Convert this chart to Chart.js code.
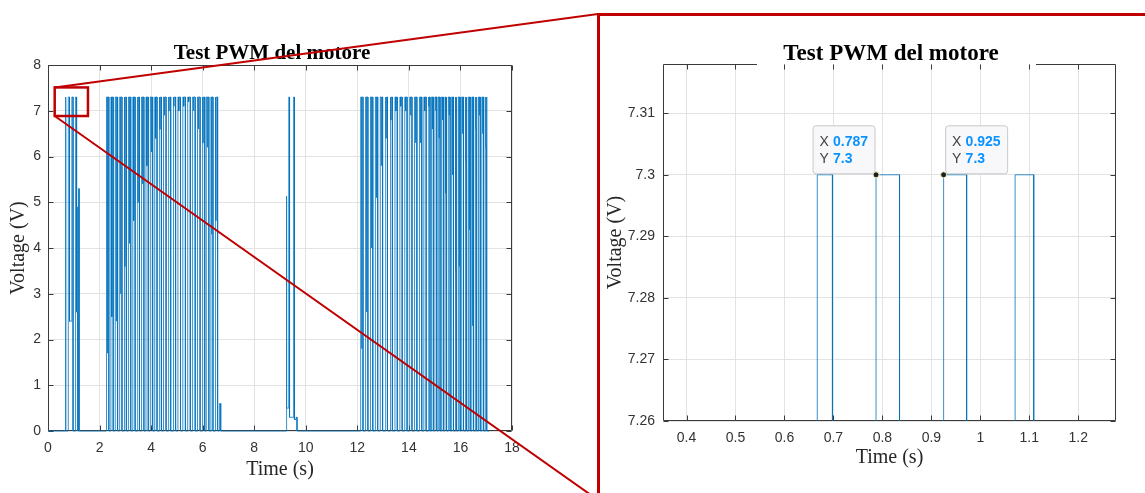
<!DOCTYPE html>
<html>
<head>
<meta charset="utf-8">
<title>Test PWM del motore</title>
<script src="https://cdn.jsdelivr.net/npm/chart.js@4.4.1/dist/chart.umd.min.js"></script>
<style>
    body { margin: 0; background: #fff; width: 1145px; height: 493px; overflow: hidden; position: relative; }
    #leftWrap { position: absolute; left: 0; top: 0; z-index: 1; }
    #zoomPanel { position: absolute; left: 597px; top: 13px; width: 560px; height: 486px; border-left: 3px solid #c00000; border-top: 3px solid #c00000; background: #fff; z-index: 2; }
    #rightWrap { position: absolute; left: 600px; top: 0; z-index: 3; }
</style>
</head>
<body>
<div id="leftWrap"><canvas id="pwmChart" width="598" height="493"></canvas></div>
<div id="zoomPanel"></div>
<div id="rightWrap"><canvas id="zoomChart" width="545" height="493"></canvas></div>

<script>
// PWM signal, times in s, voltage in V
const PWM_HIGH = 7.3;
const SIGNAL_END = 17.12;

// burst 1 (0.6 - 1.2 s)
const g1On   = [0.667, 0.787, 0.925, 1.071, 1.150, 1.195];
const g1Off  = [0.698, 0.835, 0.972, 1.109, 1.160, 1.205];
const g1High = [7.3, 7.3, 7.3, 7.3, 4.9, 5.3];
const g1Low  = [0, 2.4, 0, 2.6, 0, 0];

// burst 2 (2.3 - 6.6 s)
const g2On  = [2.27, 2.32, 2.44, 2.49, 2.61, 2.66, 2.78, 2.83, 2.95, 3.00, 3.12, 3.17, 3.29, 3.34,
               3.46, 3.51, 3.63, 3.68, 3.80, 3.85, 3.97, 4.02, 4.14, 4.19, 4.31, 4.36, 4.48, 4.53,
               4.66, 4.71, 4.85, 4.90, 5.04, 5.09, 5.23, 5.28, 5.42, 5.47, 5.61, 5.66, 5.80, 5.85,
               5.98, 6.03, 6.14, 6.19, 6.32, 6.36, 6.48, 6.53];
const g2Off = [2.30, 2.36, 2.47, 2.53, 2.64, 2.70, 2.81, 2.87, 2.98, 3.04, 3.15, 3.21, 3.32, 3.38,
               3.49, 3.55, 3.66, 3.72, 3.83, 3.89, 4.00, 4.06, 4.17, 4.23, 4.34, 4.40, 4.51, 4.58,
               4.69, 4.76, 4.88, 4.95, 5.07, 5.14, 5.26, 5.33, 5.45, 5.52, 5.64, 5.71, 5.83, 5.90,
               6.01, 6.08, 6.17, 6.24, 6.34, 6.40, 6.51, 6.58];
const g2Low = [1.7, 0, 2.5, 0, 2.4, 0, 3.0, 0, 3.6, 0, 4.1, 0, 4.6, 0,
               5.0, 0, 5.4, 0, 5.8, 0, 6.1, 0, 6.4, 0, 6.6, 0, 6.9, 0,
               7.0, 0, 7.1, 0, 7.0, 0, 7.1, 0, 7.2, 0, 7.0, 0, 6.6, 0,
               6.3, 0, 6.2, 0, 4.3, 0, 4.6, 0];
// small tail after burst 2
const g2TailOn = [6.65], g2TailOff = [6.70], g2TailHigh = [0.6], g2TailLow = [0];

// burst 3 (9.2 - 9.7 s)
const g3On   = [9.25, 9.34, 9.53, 9.62];
const g3Off  = [9.26, 9.37, 9.56, 9.66];
const g3High = [5.13, 7.3, 7.3, 0.3];
const g3Low  = [0.5, 0.3, 0.25, 0];

// burst 4 (12.1 - 17.1 s)
const g4On  = [12.13, 12.18, 12.32, 12.37, 12.51, 12.56, 12.70, 12.75, 12.89, 12.94, 13.08, 13.13,
               13.27, 13.32, 13.46, 13.51, 13.65, 13.70, 13.84, 13.89, 14.03, 14.08, 14.22, 14.27,
               14.41, 14.46, 14.58, 14.63, 14.75, 14.79, 14.88, 14.92, 15.01, 15.05, 15.14, 15.18,
               15.27, 15.31, 15.40, 15.44, 15.53, 15.57, 15.66, 15.70, 15.79, 15.83, 15.92, 15.96,
               16.05, 16.09, 16.18, 16.22, 16.31, 16.35, 16.44, 16.48, 16.57, 16.61, 16.70, 16.74,
               16.83, 16.87, 16.96, 17.00];
const g4Off = [12.16, 12.22, 12.35, 12.41, 12.54, 12.60, 12.73, 12.79, 12.92, 12.98, 13.11, 13.17,
               13.30, 13.36, 13.49, 13.55, 13.68, 13.74, 13.87, 13.93, 14.06, 14.12, 14.25, 14.31,
               14.44, 14.50, 14.61, 14.67, 14.78, 14.82, 14.91, 14.95, 15.04, 15.08, 15.17, 15.21,
               15.30, 15.34, 15.43, 15.47, 15.56, 15.60, 15.69, 15.73, 15.82, 15.86, 15.95, 15.99,
               16.08, 16.12, 16.21, 16.25, 16.34, 16.38, 16.47, 16.51, 16.60, 16.64, 16.73, 16.77,
               16.86, 16.90, 16.99, 17.03];
const g4Low = [1.8, 0, 2.6, 0, 4.0, 0, 5.1, 0, 5.8, 0, 6.4, 0,
               6.8, 0, 7.0, 0, 7.1, 0, 7.0, 0, 6.9, 0, 6.3, 0,
               6.3, 0, 7.0, 0, 7.1, 0, 6.6, 0, 7.0, 0, 6.4, 0,
               6.8, 0, 5.2, 0, 6.9, 0, 5.6, 0, 3.5, 0, 3.6, 0,
               6.5, 0, 5.9, 0, 4.4, 0, 2.3, 0, 6.6, 0, 6.9, 0,
               6.5, 0, 6.2, 0];

// axes
const timeTicks = [0, 2, 4, 6, 8, 10, 12, 14, 16, 18];
const voltTicks = [0, 1, 2, 3, 4, 5, 6, 7, 8];
const zoomTimeTicks = [0.4, 0.5, 0.6, 0.7, 0.8, 0.9, 1, 1.1, 1.2];
const zoomVoltTicks = [7.26, 7.27, 7.28, 7.29, 7.3, 7.31];
const zoomTimeRange = [0.352, 1.277];
const zoomVoltRange = [7.26, 7.318];

// red zoom frame on the left plot
const zoomBoxX = [0.26, 1.55];
const zoomBoxY = [6.885, 7.51];

// data tips on the zoomed plot
const tipX = [0.787, 0.925];
const tipY = [7.3, 7.3];
const tipSide = ['left', 'right'];

const LINE_COLOR = 'rgba(0, 114, 189, 0.78)';
const GRID_COLOR = '#e3e3e3';
const AXIS_COLOR = '#3a3a3a';
const RED = '#c00000';
const PANEL_LEFT = 598, PANEL_TOP = 14, PANEL_BOTTOM = 500;

Chart.defaults.font.family = '"Liberation Sans", Arial, sans-serif';

const bursts = [
    {on: g1On, off: g1Off, high: g1High, low: g1Low},
    {on: g2On, off: g2Off, low: g2Low},
    {on: g2TailOn, off: g2TailOff, high: g2TailHigh, low: g2TailLow},
    {on: g3On, off: g3Off, high: g3High, low: g3Low},
    {on: g4On, off: g4Off, low: g4Low}
];

function buildSignal(groups) {
    const points = [{x: 0, y: 0}];
    let level = 0;
    groups.forEach(g => {
        g.on.forEach((t, i) => {
            const high = g.high ? g.high[i] : PWM_HIGH;
            points.push({x: t, y: level}, {x: t, y: high}, {x: g.off[i], y: high}, {x: g.off[i], y: g.low[i]});
            level = g.low[i];
        });
    });
    points.push({x: SIGNAL_END, y: level});
    return points;
}

// matlab style box, inner ticks and texts
const matlabAxes = {
    id: 'matlabAxes',
    beforeDatasetsDraw(chart, args, opts) {
        const {ctx, chartArea: a, scales: {x, y}} = chart;
        const L = Math.round(a.left) + 0.5, R = Math.round(a.right) - 0.5;
        const T = Math.round(a.top) + 0.5, B = Math.round(a.bottom) - 0.5;
        ctx.save();
        ctx.strokeStyle = AXIS_COLOR;
        ctx.lineWidth = 1;
        ctx.beginPath();
        ctx.moveTo(L, T); ctx.lineTo(L, B); ctx.lineTo(R, B); ctx.lineTo(R, T);
        if (opts.topGap) {
            ctx.lineTo(opts.topGap[1], T);
            ctx.moveTo(opts.topGap[0], T); ctx.lineTo(L, T);
        } else {
            ctx.lineTo(L, T);
        }
        x.ticks.forEach(t => {
            const p = Math.round(x.getPixelForValue(t.value)) + 0.5;
            ctx.moveTo(p, B); ctx.lineTo(p, B - 5);
            ctx.moveTo(p, T); ctx.lineTo(p, T + 5);
        });
        y.ticks.forEach(t => {
            const p = Math.round(y.getPixelForValue(t.value)) + 0.5;
            ctx.moveTo(L, p); ctx.lineTo(L + 5, p);
            ctx.moveTo(R, p); ctx.lineTo(R - 5, p);
        });
        ctx.stroke();
        ctx.restore();
    },
    afterDraw(chart, args, opts) {
        const {ctx, chartArea: a} = chart;
        ctx.save();
        ctx.textAlign = 'center';
        ctx.fillStyle = '#000';
        ctx.font = 'bold ' + opts.titleSize + 'px "Liberation Serif"';
        ctx.fillText(opts.title, opts.titleX, opts.titleY);
        ctx.fillStyle = '#262626';
        ctx.font = '20px "Liberation Serif"';
        ctx.fillText(opts.xLabel, (a.left + a.right) / 2, opts.xLabelY);
        ctx.translate(opts.yLabelX, (a.top + a.bottom) / 2);
        ctx.rotate(-Math.PI / 2);
        ctx.textBaseline = 'middle';
        ctx.fillText(opts.yLabel, 0, 0);
        ctx.restore();
    }
};

const zoomFrame = {
    id: 'zoomFrame',
    afterDraw(chart) {
        const {ctx, scales: {x, y}} = chart;
        const x0 = x.getPixelForValue(zoomBoxX[0]), x1 = x.getPixelForValue(zoomBoxX[1]);
        const y0 = y.getPixelForValue(zoomBoxY[1]), y1 = y.getPixelForValue(zoomBoxY[0]);
        ctx.save();
        ctx.strokeStyle = RED;
        ctx.lineWidth = 2.5;
        ctx.strokeRect(x0, y0, x1 - x0, y1 - y0);
        ctx.lineWidth = 2;
        ctx.beginPath();
        ctx.moveTo(x0, y0); ctx.lineTo(PANEL_LEFT, PANEL_TOP);
        ctx.moveTo(x0, y1); ctx.lineTo(PANEL_LEFT, PANEL_BOTTOM);
        ctx.stroke();
        ctx.restore();
    }
};

const dataTips = {
    id: 'dataTips',
    afterDraw(chart) {
        const {ctx, scales: {x, y}} = chart;
        tipX.forEach((tx, i) => {
            const px = x.getPixelForValue(tx), py = y.getPixelForValue(tipY[i]);
            const w = 62, h = 48;
            const left = tipSide[i] === 'left' ? px - w - 1.5 : px + 1.5;
            const top = py - h - 1.5;
            ctx.save();
            ctx.fillStyle = '#f8f8fb';
            ctx.strokeStyle = '#c9c9cc';
            ctx.lineWidth = 1;
            ctx.beginPath();
            ctx.roundRect(left + 0.5, top + 0.5, w, h, 3);
            ctx.fill();
            ctx.stroke();
            ctx.font = '14px "Liberation Sans"';
            ctx.textBaseline = 'middle';
            ctx.fillStyle = '#404040';
            ctx.fillText('X', left + 7, top + 16.5);
            ctx.fillText('Y', left + 7, top + 34);
            ctx.font = 'bold 14px "Liberation Sans"';
            ctx.fillStyle = '#0a93ff';
            ctx.fillText(String(tx), left + 20.5, top + 16.5);
            ctx.fillText(String(tipY[i]), left + 20.5, top + 34);
            ctx.beginPath();
            ctx.arc(px, py, 3, 0, Math.PI * 2);
            ctx.fillStyle = '#1f1f1f';
            ctx.fill();
            ctx.strokeStyle = '#f2f2c0';
            ctx.stroke();
            ctx.restore();
        });
    }
};

function tickScale(min, max, ticks, fit, padding) {
    return {
        type: 'linear',
        min: min,
        max: max,
        afterBuildTicks: s => { s.ticks = ticks.map(v => ({value: v})); },
        afterFit: fit,
        grid: {color: GRID_COLOR, drawTicks: false},
        border: {display: false},
        ticks: {
            color: '#333',
            font: {size: 14},
            padding: padding,
            autoSkip: false,
            maxRotation: 0,
            callback: v => String(v)
        }
    };
}

// left: whole test
new Chart(document.getElementById('pwmChart'), {
    type: 'line',
    data: {
        datasets: [{
            data: buildSignal(bursts),
            borderColor: LINE_COLOR,
            borderWidth: 1,
            pointRadius: 0,
            tension: 0,
            clip: false
        }]
    },
    options: {
        responsive: false,
        animation: false,
        events: [],
        layout: {padding: {left: 0, top: 65, right: 86, bottom: 0}},
        plugins: {
            legend: {display: false},
            tooltip: {enabled: false},
            matlabAxes: {
                title: 'Test PWM del motore', titleSize: 21, titleX: 272, titleY: 59,
                xLabel: 'Time (s)', xLabelY: 475,
                yLabel: 'Voltage (V)', yLabelX: 19
            }
        },
        scales: {
            x: tickScale(0, 18, timeTicks, s => { s.height = 62; }, 9),
            y: tickScale(0, 8, voltTicks, s => { s.width = 48; }, 7)
        }
    },
    plugins: [matlabAxes, zoomFrame]
});

// right: zoom on the first burst
new Chart(document.getElementById('zoomChart'), {
    type: 'line',
    data: {
        datasets: [{
            data: buildSignal(bursts),
            borderColor: LINE_COLOR,
            borderWidth: 1,
            pointRadius: 0,
            tension: 0,
            clip: 0
        }]
    },
    options: {
        responsive: false,
        animation: false,
        events: [],
        layout: {padding: {left: 0, top: 64, right: 29, bottom: 0}},
        plugins: {
            legend: {display: false},
            tooltip: {enabled: false},
            matlabAxes: {
                title: 'Test PWM del motore', titleSize: 23, titleX: 291, titleY: 60,
                xLabel: 'Time (s)', xLabelY: 463,
                yLabel: 'Voltage (V)', yLabelX: 16,
                topGap: [157, 436]
            }
        },
        scales: {
            x: tickScale(zoomTimeRange[0], zoomTimeRange[1], zoomTimeTicks, s => { s.height = 72; }, 9),
            y: tickScale(zoomVoltRange[0], zoomVoltRange[1], zoomVoltTicks, s => { s.width = 63; }, 8)
        }
    },
    plugins: [matlabAxes, dataTips]
});
</script>
</body>
</html>
